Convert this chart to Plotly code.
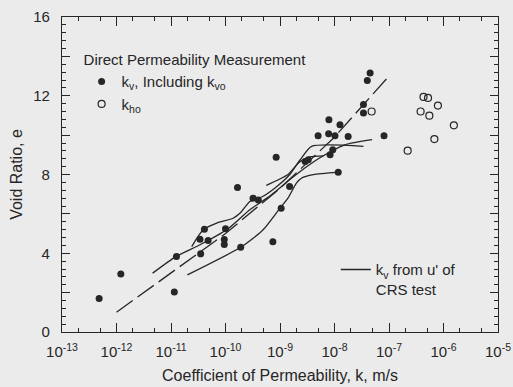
import plotly.graph_objects as go

# Direct permeability measurement: k_v including k_vo (filled)
kv_k = [4.8e-13, 1.2e-12, 1.15e-11, 1.26e-11, 3.4e-11, 4.1e-11, 4.8e-11, 3.5e-11,
        9.5e-11, 9.5e-11, 1.0e-10, 1.9e-10, 1.66e-10, 3.2e-10, 4.0e-10, 8.5e-10,
        1.5e-9, 1.05e-9, 7.4e-10, 2.9e-9, 3.3e-9, 8.3e-9, 9.3e-9, 1.17e-8,
        5.0e-9, 7.8e-9, 1.02e-8, 1.78e-8, 7.9e-9, 1.26e-8, 4.5e-8, 4.0e-8,
        3.4e-8, 3.4e-8, 8.1e-8]
kv_e = [1.7, 2.95, 2.03, 3.83, 4.71, 5.22, 4.65, 3.97,
        4.45, 4.7, 5.24, 4.31, 7.34, 6.8, 6.71, 8.88,
        7.39, 6.29, 4.59, 8.66, 8.75, 9.0, 9.26, 8.12,
        9.97, 10.07, 9.97, 9.93, 10.78, 10.53, 13.16, 12.77,
        11.55, 11.12, 9.97]

# k_ho (open)
kho_k = [4.8e-8, 4.3e-7, 5.2e-7, 7.9e-7, 3.8e-7, 5.5e-7, 1.55e-6, 6.8e-7, 2.2e-7]
kho_e = [11.2, 11.94, 11.89, 11.5, 11.2, 10.99, 10.5, 9.8, 9.21]

# k_v from u' of CRS tests (solid curves)
crs1_k = [4.6e-12, 1.23e-11, 3.4e-11, 1.05e-10, 2.8e-10, 6.6e-10, 1.5e-9, 2.9e-9, 5.4e-9, 1.55e-8, 4.9e-8]
crs1_e = [2.99, 3.83, 4.43, 5.19, 6.21, 6.92, 7.73, 8.34, 8.85, 9.51, 9.77]
crs2_k = [2.4e-11, 3.9e-11, 6.9e-11, 1.38e-10, 1.86e-10, 2.8e-10, 4.7e-10, 8.1e-10, 1.5e-9, 2.35e-9, 3.8e-9, 3.4e-8]
crs2_e = [4.34, 5.19, 5.53, 5.78, 6.04, 6.63, 6.87, 7.32, 7.99, 8.75, 9.43, 9.43]
crs3_k = [2.0e-11, 2.0e-10, 4.9e-10, 1.0e-9, 1.4e-9, 2.0e-9, 2.5e-9, 4.1e-9, 1.17e-8]
crs3_e = [2.90, 4.34, 5.19, 6.29, 6.80, 7.56, 7.82, 7.99, 8.12]
crs4_k = [5.6e-10, 1.4e-9, 2.2e-9, 3.5e-9, 6.3e-9]
crs4_e = [7.45, 8.0, 8.6, 8.9, 8.95]

# trend (dashed)
trend_k = [1e-12, 1e-11, 1e-10, 1e-9, 1e-8, 1e-7]
trend_e = [1.0, 3.0, 5.0, 7.3, 9.9, 13.0]

x_tickvals = [1e-13, 1e-12, 1e-11, 1e-10, 1e-9, 1e-8, 1e-7, 1e-6, 1e-5]
x_ticktext = ["10<sup>-13</sup>", "10<sup>-12</sup>", "10<sup>-11</sup>", "10<sup>-10</sup>",
              "10<sup>-9</sup>", "10<sup>-8</sup>", "10<sup>-7</sup>", "10<sup>-6</sup>", "10<sup>-5</sup>"]
y_tickvals = [0, 2, 4, 6, 8, 10, 12, 14, 16]
y_ticktext = ["0", "", "4", "", "8", "", "12", "", "16"]

INK = "#262626"
BG = "#ebebeb"
FONT = "Liberation Sans, Arial, sans-serif"

fig = go.Figure()

crs_sets = [(crs1_k, crs1_e), (crs2_k, crs2_e), (crs3_k, crs3_e), (crs4_k, crs4_e)]
for i, (kk, ee) in enumerate(crs_sets):
    fig.add_trace(go.Scatter(
        x=kk, y=ee, mode="lines", line=dict(color=INK, width=1.3, shape="spline", smoothing=0.6),
        name="k<sub>v</sub> from u' of<br>CRS test", legendgroup="crs",
        showlegend=(i == 0), legend="legend2"))

fig.add_trace(go.Scatter(
    x=trend_k, y=trend_e, mode="lines", line=dict(color=INK, width=1.3, dash="20px,6px"),
    showlegend=False, hoverinfo="skip"))

fig.add_trace(go.Scatter(
    x=kv_k, y=kv_e, mode="markers",
    marker=dict(symbol="circle", size=7, color=INK),
    name="k<sub>v</sub>, Including k<sub>vo</sub>", legend="legend"))

fig.add_trace(go.Scatter(
    x=kho_k, y=kho_e, mode="markers",
    marker=dict(symbol="circle-open", size=7, color=INK, line=dict(width=1.2)),
    name="k<sub>ho</sub>", legend="legend"))

axis_common = dict(showline=True, linecolor=INK, linewidth=1.2, mirror="ticks",
                   ticks="inside", tickcolor=INK, showgrid=False, zeroline=False,
                   automargin=False,
                   tickfont=dict(family=FONT, size=15, color=INK))

fig.update_xaxes(type="log", range=[-13, -5], tickvals=x_tickvals, ticktext=x_ticktext,
                 ticklen=9, tickwidth=1.2, ticklabelstandoff=6,
                 minor=dict(ticks="inside", ticklen=4, tickcolor=INK, showgrid=False),
                 title=dict(text="Coefficient of Permeability, k, m/s",
                            font=dict(family=FONT, size=16, color=INK), standoff=10),
                 **axis_common)
fig.update_yaxes(range=[0, 16], tickvals=y_tickvals, ticktext=y_ticktext,
                 ticklen=8, tickwidth=1.2,
                 minor=dict(ticks="inside", ticklen=4, dtick=0.4, tick0=0, tickcolor=INK, showgrid=False),
                 title=dict(text="Void Ratio, e", font=dict(family=FONT, size=16, color=INK), standoff=6),
                 ticklabelstandoff=8,
                 **axis_common)

fig.update_layout(
    width=513, height=387,
    margin=dict(l=62, r=15, t=17, b=55),
    paper_bgcolor=BG, plot_bgcolor=BG,
    font=dict(family=FONT, size=15, color=INK),
    legend=dict(x=0.045, y=0.909, xanchor="left", yanchor="top",
                bgcolor="rgba(0,0,0,0)", itemwidth=30,
                title=dict(text="Direct Permeability Measurement", side="top",
                           font=dict(family=FONT, size=15, color=INK)),
                font=dict(family=FONT, size=15, color=INK), tracegroupgap=0),
    legend2=dict(x=0.628, y=0.25, xanchor="left", yanchor="top",
                 bgcolor="rgba(0,0,0,0)", valign="top",
                 font=dict(family=FONT, size=15, color=INK)),
)

fig.write_html("out.html")
